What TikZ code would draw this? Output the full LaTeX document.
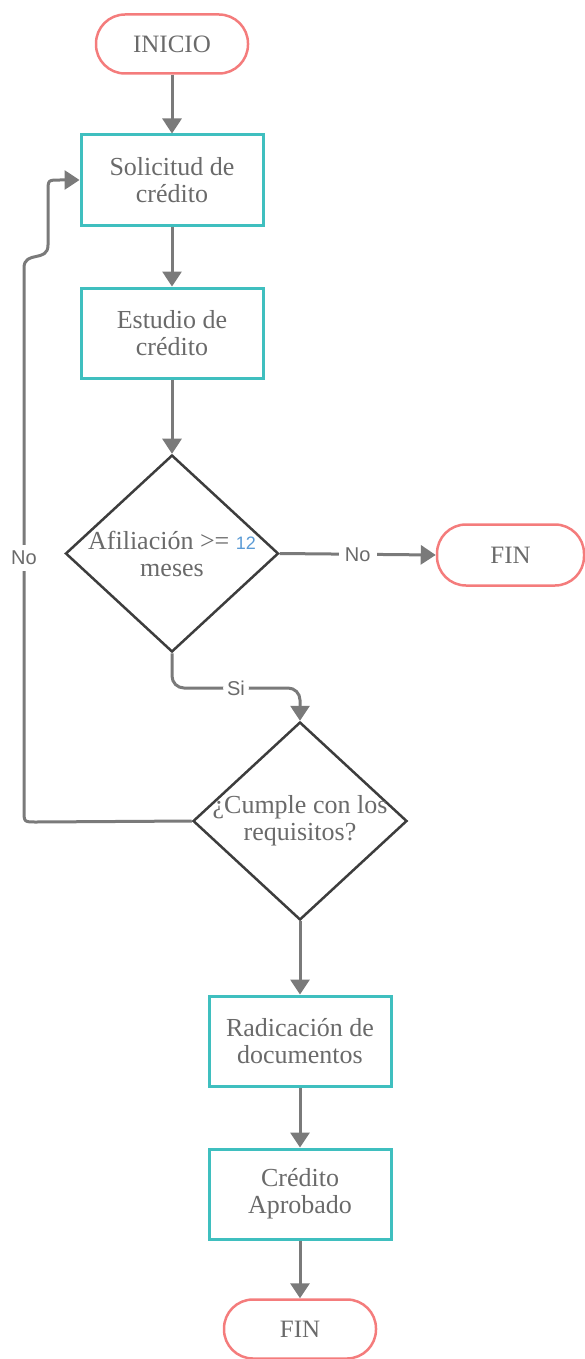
\documentclass[tikz,border=0pt]{standalone}
\usepackage{fontspec}
\setmainfont{Liberation Serif}
\newfontfamily\labelfont{Liberation Sans}
\usetikzlibrary{arrows.meta,shapes.geometric}

\definecolor{termred}{HTML}{F47C7C}
\definecolor{procteal}{HTML}{3FBFBF}
\definecolor{decgray}{HTML}{3D3D3D}
\definecolor{flowgray}{HTML}{7A7A7A}
\definecolor{txtgray}{HTML}{6A6A6A}
\definecolor{numblue}{HTML}{5B9BD5}

\tikzset{
  terminal/.style={draw=termred, line width=2.5pt, rounded corners=29pt,
    minimum width=152pt, minimum height=59pt, inner sep=0pt,
    text=txtgray, font=\fontsize{25}{27}\selectfont},
  process/.style={draw=procteal, line width=3pt,
    minimum width=182pt, minimum height=90pt, inner sep=0pt,
    text=txtgray, align=center, font=\fontsize{26}{27}\selectfont},
  decision/.style={draw=decgray, line width=2.5pt, diamond, inner sep=0pt,
    minimum width=213pt, minimum height=197pt},
  dtext/.style={text=txtgray, align=center, inner sep=0pt,
    font=\fontsize{26}{27}\selectfont},
  flow/.style={draw=flowgray, line width=3pt,
    -{Triangle[width=19pt,length=15pt]}},
  lbl/.style={fill=white, text=txtgray, inner xsep=6pt, inner ysep=2pt,
    font=\labelfont\fontsize{20}{22}\selectfont}
}

\begin{document}
\begin{tikzpicture}[x=1pt,y=-1pt]
\useasboundingbox (0,0) rectangle (585,1359);

% steps of the process
\node[terminal] (inicio) at (172,44) {INICIO};
\node[process] (solicitud) at (172,180) {Solicitud de\\crédito};
\node[process] (estudio) at (172,333) {Estudio de\\crédito};
\node[decision, label={[dtext]center:{Afiliación >= {\labelfont\color{numblue}\fontsize{18}{20}\selectfont 12}\\meses}}] (afil) at (172,553.5) {};
\node[terminal, minimum width=147pt, minimum height=61pt] (fin1) at (510.5,555) {FIN};
\node[decision, minimum width=214pt, minimum height=198pt,
  label={[dtext]center:{¿Cumple con los\\requisitos?}}] (cumple) at (300,821) {};
\node[process] (radic) at (300,1041) {Radicación de\\documentos};
\node[process] (aprob) at (300,1194) {Crédito\\Aprobado};
\node[terminal] (fin2) at (300,1329) {FIN};

% helper points of the routed connectors
\coordinate (sirow) at (0,688);
\coordinate (loopbot) at (24,822);
\coordinate (looplow) at (24,268);
\coordinate (loophigh) at (48,245);
\coordinate (looptop) at (48,180);

% straight connectors
\draw[flow] (inicio) -- (solicitud);
\draw[flow] (solicitud) -- (estudio);
\draw[flow] (estudio) -- (afil);
\draw[flow] (afil.east) -- node[lbl]{No} (fin1.west);
\draw[flow] (cumple.south) -- (radic);
\draw[flow] (radic) -- (aprob);
\draw[flow] (aprob) -- (fin2);

% "Si" branch
\draw[flow, rounded corners=12pt] (afil.south) -- (afil.south |- sirow)
  -- node[lbl, inner xsep=4pt]{Si} (cumple.north |- sirow) -- (cumple.north);

% "No" branch back to the request
\draw[flow] (cumple.west) -- (36,822)
  .. controls (loopbot) .. (24,810)
  -- node[lbl, pos=0.465, inner xsep=2pt, inner ysep=6pt]{No} (looplow)
  .. controls (24,250) and (48,263) .. (loophigh)
  -- (48,192)
  .. controls (looptop) .. (60,180)
  -- (solicitud.west);
\end{tikzpicture}
\end{document}
